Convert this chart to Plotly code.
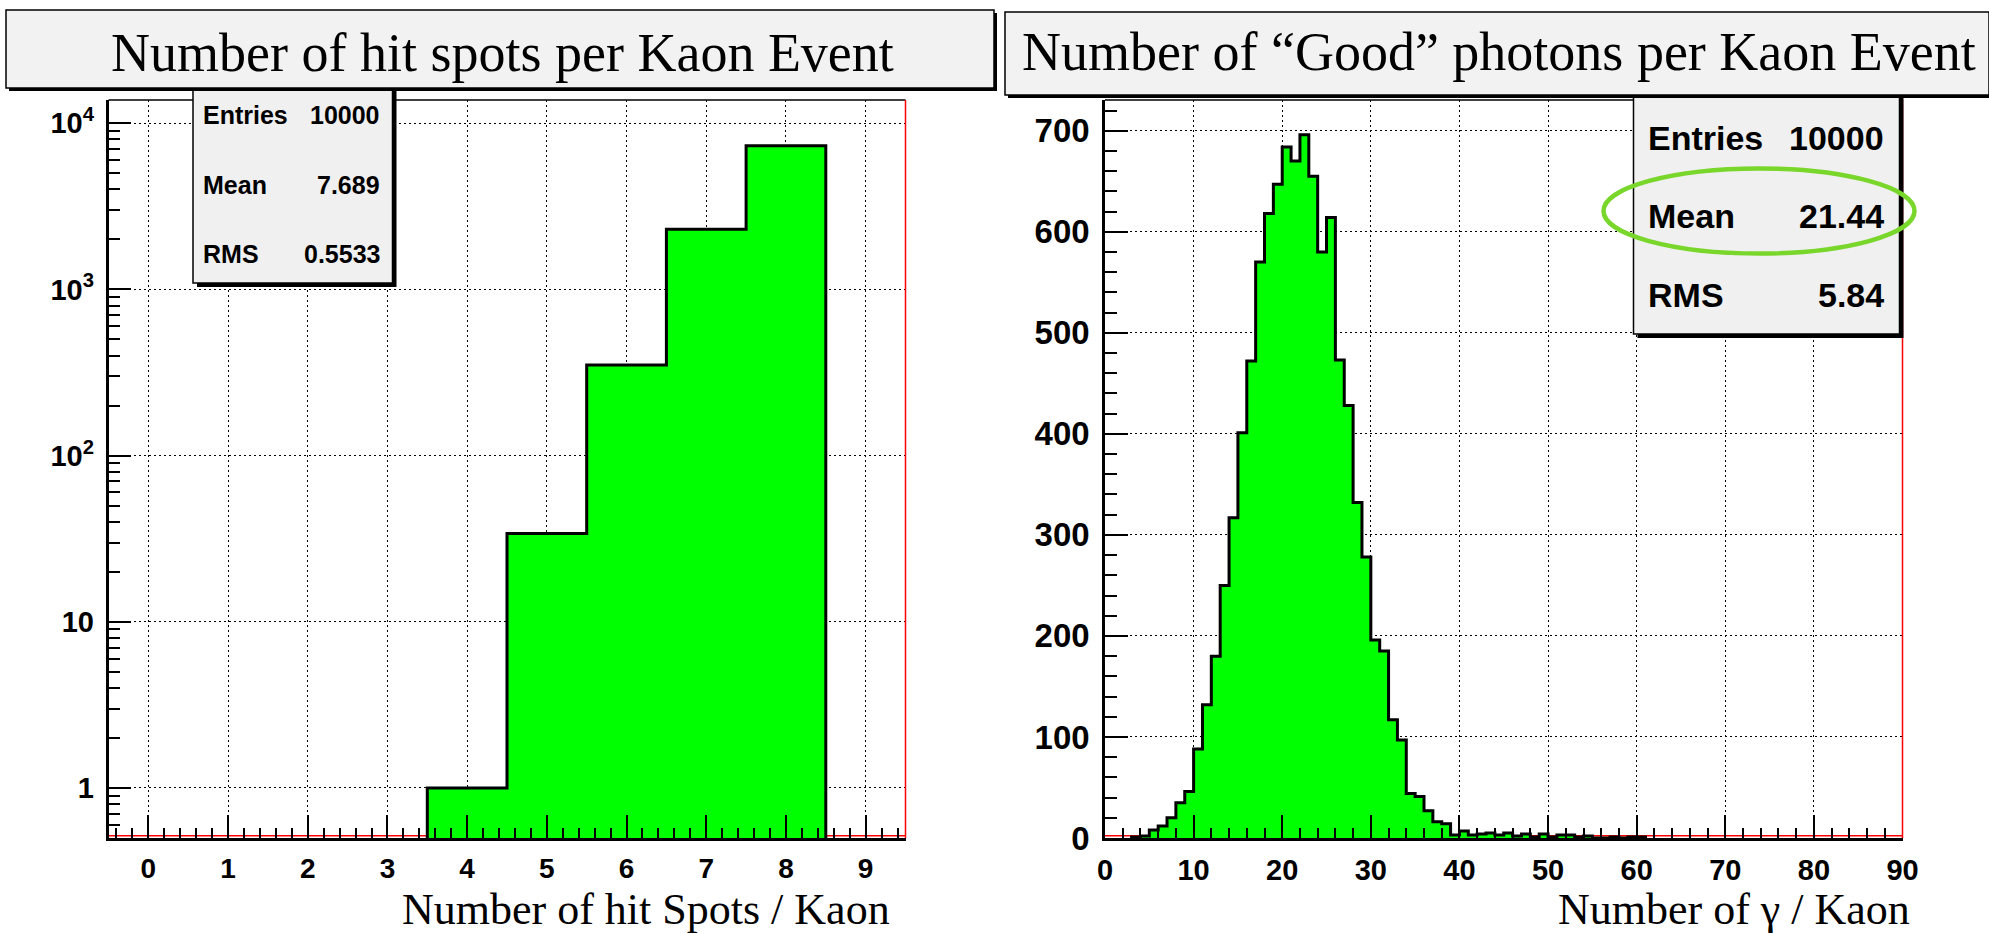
import math
import plotly.graph_objects as go

W, H = 1989, 934

# ---- data -----------------------------------------------------------------
# Number of hit spots per kaon event (unit bins centred on the integers;
# all other bins are empty)
hit_spots = [4, 5, 6, 7, 8]
hit_counts = [1, 34, 351, 2302, 7312]
hit_stats = [("Entries", "10000"), ("Mean", "7.689"), ("RMS", "0.5533")]

# Number of "good" photons per kaon event, unit bins starting at 0
photon_counts = [0, 0, 0, 1, 2, 8, 12, 20, 35, 46,
                 88, 132, 180, 250, 317, 401, 472, 570, 618, 647,
                 684, 670, 696, 655, 580, 614, 473, 428, 332, 278,
                 196, 185, 117, 97, 44, 41, 27, 16, 14, 3,
                 7, 3, 4, 5, 3, 5, 2, 4, 1, 4,
                 1, 3, 3, 1, 2, 0, 0, 1, 0, 1, 1]
photon_bin_low = list(range(len(photon_counts)))
photon_stats = [("Entries", "10000"), ("Mean", "21.44"), ("RMS", "5.84")]

left_xticks = list(range(0, 10))
left_yticks = [1, 10, 100, 1000, 10000]
left_yticktext = ["1", "10", "10<sup>2</sup>", "10<sup>3</sup>", "10<sup>4</sup>"]
left_yminor = [k * 10 ** d for d in range(-1, 5) for k in range(2, 10)]
right_xticks = list(range(0, 91, 10))
right_yticks = list(range(0, 701, 100))

LOG_FLOOR = 0.5          # lower edge of the log axis of the left pad

SERIF = "Liberation Serif, Times New Roman, serif"
SANS = "Liberation Sans, Arial, sans-serif"
GREEN = "#00ff00"


def px(x):
    return min(max(x / W, 0.0), 1.0)


def py(y):
    return min(max(1 - y / H, 0.0), 1.0)


def step_outline(lows, counts, width, base):
    """Closed step polygon of a histogram (first/last empty bins dropped)."""
    nz = [i for i, c in enumerate(counts) if c > 0]
    a, b = nz[0], nz[-1]
    xs, ys = [lows[a]], [base]
    for i in range(a, b + 1):
        xs.append(lows[i])
        ys.append(counts[i] if counts[i] > 0 else base)
    xs.append(lows[b] + width)
    ys.append(base)
    return xs, ys


fig = go.Figure()

# left pad: hit spots (log scale)
hx, hy = step_outline([s - 0.5 for s in hit_spots], hit_counts, 1.0, LOG_FLOOR)
fig.add_trace(go.Scatter(x=hx, y=hy, mode="lines", line_shape="hv",
                         fill="toself", fillcolor=GREEN,
                         line=dict(color="black", width=3),
                         xaxis="x", yaxis="y", showlegend=False,
                         hoverinfo="skip"))

# right pad: photons (linear scale)
gx, gy = step_outline(photon_bin_low, photon_counts, 1.0, 0)
fig.add_trace(go.Scatter(x=gx, y=gy, mode="lines", line_shape="hv",
                         fill="toself", fillcolor=GREEN,
                         line=dict(color="black", width=3),
                         xaxis="x2", yaxis="y2", showlegend=False,
                         hoverinfo="skip"))

y_dom = [py(838), py(100)]
grid = dict(showgrid=True, gridcolor="black", gridwidth=1, griddash="2px,3px")


def tfont(size):
    return dict(family=SANS, size=size, color="black", weight="bold")


def minor(**kw):
    return dict(ticks="inside", tickwidth=1.5, tickcolor="black",
                showgrid=False, **kw)


common = dict(ticks="inside", ticklen=23, tickwidth=2, tickcolor="black",
              showline=True, linecolor="black", linewidth=2.5,
              zeroline=False, automargin=False, **grid)

fig.update_layout(
    width=W, height=H,
    autosize=False,
    margin=dict(l=0, r=0, t=0, b=0, pad=0, autoexpand=False),
    paper_bgcolor="white", plot_bgcolor="white",
    showlegend=False,
    xaxis=dict(domain=[px(108.5), px(905.5)], range=[-0.5, 9.5],
               tickvals=left_xticks, anchor="y", tickfont=tfont(28),
               ticklabelstandoff=4,
               minor=minor(dtick=0.2, tick0=0, ticklen=10), **common),
    yaxis=dict(domain=y_dom, type="log",
               range=[math.log10(LOG_FLOOR), 4.14],
               tickvals=left_yticks, ticktext=left_yticktext,
               anchor="x", tickfont=tfont(29), ticklabelstandoff=6,
               minor=minor(tickvals=left_yminor, ticklen=12), **common),
    xaxis2=dict(domain=[px(1105), px(1902.5)], range=[0, 90],
                tickvals=right_xticks, anchor="y2", tickfont=tfont(29),
                ticklabelstandoff=4,
                minor=minor(dtick=2, tick0=0, ticklen=10), **common),
    yaxis2=dict(domain=y_dom, range=[0, 730.4], tickvals=right_yticks,
                anchor="x2", tickfont=tfont(33), ticklabelstandoff=6,
                minor=minor(dtick=20, tick0=0, ticklen=12), **common),
)

shapes = []
# frame: black top edge, red right edge and red line along the bottom
for xr, yr in (("x domain", "y domain"), ("x2 domain", "y2 domain")):
    shapes.append(dict(type="line", xref=xr, yref=yr, x0=0, x1=1, y0=1, y1=1,
                       line=dict(color="black", width=1.5)))
    shapes.append(dict(type="line", xref=xr, yref=yr, x0=1, x1=1, y0=0, y1=1,
                       line=dict(color="#ff0000", width=1.5)))
    shapes.append(dict(type="line", xref=xr, yref=yr, x0=0, x1=1,
                       y0=0.003, y1=0.003, layer="below",
                       line=dict(color="#ff0000", width=1.5)))


def box(x0, y0, x1, y1, fill, shadow=3, border=1.5):
    return [
        dict(type="rect", xref="paper", yref="paper",
             x0=px(x0 + shadow), x1=px(x1 + shadow),
             y0=py(y1 + shadow), y1=py(y0 + shadow),
             fillcolor="black", line=dict(width=0)),
        dict(type="rect", xref="paper", yref="paper",
             x0=px(x0), x1=px(x1), y0=py(y1), y1=py(y0),
             fillcolor=fill, line=dict(color="black", width=border)),
    ]


# statistics boxes (drawn first so the title boxes overlap their tops)
shapes += box(193, 86, 392.5, 283, "#f0f0f0", shadow=4)
shapes += box(1633.5, 94, 1899.5, 334, "#f0f0f0", shadow=4)
# title boxes (the right one runs off the page edge)
shapes += box(6, 10, 994, 88, "#f2f2f2", shadow=3)
shapes += box(1005, 12, 1992, 95, "#f2f2f2", shadow=3)
# highlight around the mean of the photon distribution
shapes.append(dict(type="circle", xref="paper", yref="paper",
                   x0=px(1603.5), x1=px(1914.5), y0=py(253.5), y1=py(168.5),
                   line=dict(color="#79d62a", width=4.5)))
fig.update_layout(shapes=shapes)

ann = []


def text(x, y, s, size, family, xanchor="center", bold=False):
    ann.append(dict(xref="paper", yref="paper", x=px(x), y=py(y),
                    text=f"<b>{s}</b>" if bold else s, showarrow=False,
                    xanchor=xanchor, yanchor="middle",
                    font=dict(family=family, size=size, color="black")))


text(502, 53, "Number of hit spots per Kaon Event", 54, SERIF)
text(1499, 52, "Number of \u201cGood\u201d photons per Kaon Event", 54, SERIF)
text(892, 909, "Number of hit Spots / Kaon", 44, SERIF, xanchor="right")
text(1912, 909, "Number of \u03b3 / Kaon", 44, SERIF, xanchor="right")

for (label, value), yrow in zip(hit_stats, [115, 185, 254]):
    text(201, yrow, label, 25, SANS, xanchor="left", bold=True)
    text(382, yrow, value, 25, SANS, xanchor="right", bold=True)

for (label, value), yrow in zip(photon_stats, [138, 216.5, 295]):
    text(1646, yrow, label, 34, SANS, xanchor="left", bold=True)
    text(1886, yrow, value, 34, SANS, xanchor="right", bold=True)

fig.update_layout(annotations=ann)

fig.write_html("out.html", config={"responsive": False})
